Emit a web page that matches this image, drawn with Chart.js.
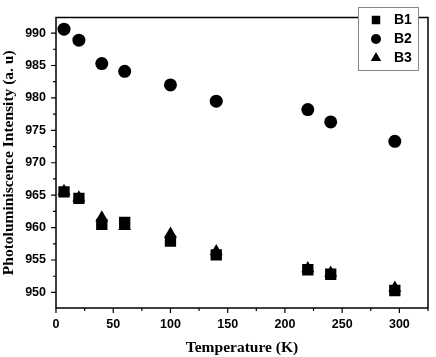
<!DOCTYPE html>
<html lang="en">
<head>
    <meta charset="UTF-8">
    <title>Photoluminiscence Intensity vs Temperature</title>
    <script src="https://cdn.jsdelivr.net/npm/chart.js"></script>
    <style>
        body { margin: 0; background: #fff; }
        #wrap { width: 436px; height: 357px; }
    </style>
</head>
<body>
    <div id="wrap"><canvas id="plChart" width="436" height="357"></canvas></div>

    <script>
        // Temperatures (K) and intensities
        const temps = [7, 20, 40, 60, 100, 140, 220, 240, 296];
        const b1 = [965.5, 964.5, 960.5, 960.8, 957.9, 955.8, 953.5, 952.8, 950.3];
        const b2 = [990.6, 988.9, 985.3, 984.1, 982.0, 979.5, 978.2, 976.3, 973.3];
        const b3 = [965.6, 964.6, 961.5, 960.2, 959.0, 956.3, 953.7, 953.0, 950.7];
        const seriesNames = ['B1', 'B2', 'B3'];

        const xMajor = [0, 50, 100, 150, 200, 250, 300];
        const xMinor = [25, 75, 125, 175, 225, 275, 325];
        const yMajor = [950, 955, 960, 965, 970, 975, 980, 985, 990];
        const yMinor = [952.5, 957.5, 962.5, 967.5, 972.5, 977.5, 982.5, 987.5];

        const toPoints = vals => temps.map((t, i) => ({ x: t, y: vals[i] }));

        // frame, outward ticks (major + minor) and boxed legend
        const framePlugin = {
            id: 'frame',
            afterDraw(chart) {
                const { ctx, chartArea: a, scales } = chart;
                ctx.save();
                ctx.strokeStyle = '#000';
                ctx.lineWidth = 1.5;
                ctx.strokeRect(a.left, a.top, a.right - a.left, a.bottom - a.top);

                ctx.lineWidth = 1.2;
                ctx.beginPath();
                xMajor.concat(xMinor).forEach(v => {
                    const len = xMajor.includes(v) ? 5 : 3;
                    const px = scales.x.getPixelForValue(v);
                    ctx.moveTo(px, a.bottom);
                    ctx.lineTo(px, a.bottom + len);
                });
                yMajor.concat(yMinor).forEach(v => {
                    const len = yMajor.includes(v) ? 5 : 3;
                    const py = scales.y.getPixelForValue(v);
                    ctx.moveTo(a.left, py);
                    ctx.lineTo(a.left - len, py);
                });
                ctx.stroke();

                // legend box in the top right corner
                const bx = 358, by = 7, bw = 60, bh = 63;
                ctx.fillStyle = '#fff';
                ctx.fillRect(bx, by, bw, bh);
                ctx.strokeStyle = '#888';
                ctx.lineWidth = 1;
                ctx.strokeRect(bx + 0.5, by + 0.5, bw, bh);
                const styles = ['rect', 'circle', 'triangle'];
                const radii = [6, 5, 6];
                ctx.font = 'bold 14px "Liberation Sans", Arial, sans-serif';
                ctx.textBaseline = 'middle';
                seriesNames.forEach((name, i) => {
                    const cy = by + 13 + i * 19;
                    ctx.fillStyle = '#000';
                    Chart.helpers.drawPoint(ctx, {
                        pointStyle: styles[i], radius: radii[i], rotation: 0, borderWidth: 0
                    }, bx + 18, cy);
                    ctx.fillText(name, bx + 36, cy);
                });
                ctx.restore();
            }
        };

        const ctx = document.getElementById('plChart').getContext('2d');
        new Chart(ctx, {
            type: 'scatter',
            data: {
                datasets: [
                    {
                        label: 'B1',
                        data: toPoints(b1),
                        pointStyle: 'rect',
                        pointRadius: 8,
                        backgroundColor: '#000',
                        borderColor: '#000',
                        borderWidth: 0
                    },
                    {
                        label: 'B2',
                        data: toPoints(b2),
                        pointStyle: 'circle',
                        pointRadius: 6.5,
                        backgroundColor: '#000',
                        borderColor: '#000',
                        borderWidth: 0
                    },
                    {
                        label: 'B3',
                        data: toPoints(b3),
                        pointStyle: 'triangle',
                        pointRadius: 7.5,
                        backgroundColor: '#000',
                        borderColor: '#000',
                        borderWidth: 0
                    }
                ]
            },
            options: {
                responsive: false,
                animation: false,
                layout: { padding: { top: 2, right: 1, left: 0, bottom: 0 } },
                plugins: {
                    legend: { display: false },
                    tooltip: { enabled: false }
                },
                scales: {
                    x: {
                        type: 'linear',
                        min: 0,
                        max: 325,
                        afterFit(scale) { scale.height = 49; },
                        afterBuildTicks(scale) { scale.ticks = xMajor.map(v => ({ value: v })); },
                        grid: { display: false, drawTicks: false },
                        border: { display: false },
                        ticks: {
                            padding: 9,
                            color: '#000',
                            font: { family: '"Liberation Sans", Arial, sans-serif', size: 12.5, weight: 'bold' }
                        },
                        title: {
                            display: true,
                            text: 'Temperature (K)',
                            color: '#000',
                            padding: { top: 8, bottom: 0 },
                            font: { family: '"Liberation Serif", "Times New Roman", serif', size: 15.5, weight: 'bold' }
                        }
                    },
                    y: {
                        min: 947.6,
                        max: 992.4,
                        afterFit(scale) { scale.width = 56; },
                        afterBuildTicks(scale) { scale.ticks = yMajor.map(v => ({ value: v })); },
                        grid: { display: false, drawTicks: false },
                        border: { display: false },
                        ticks: {
                            padding: 10,
                            color: '#000',
                            font: { family: '"Liberation Sans", Arial, sans-serif', size: 12.5, weight: 'bold' }
                        },
                        title: {
                            display: true,
                            text: 'Photoluminiscence Intensity (a. u)',
                            color: '#000',
                            padding: { top: 0, bottom: 0 },
                            font: { family: '"Liberation Serif", "Times New Roman", serif', size: 15.5, weight: 'bold' }
                        }
                    }
                }
            },
            plugins: [framePlugin]
        });
    </script>
</body>
</html>
